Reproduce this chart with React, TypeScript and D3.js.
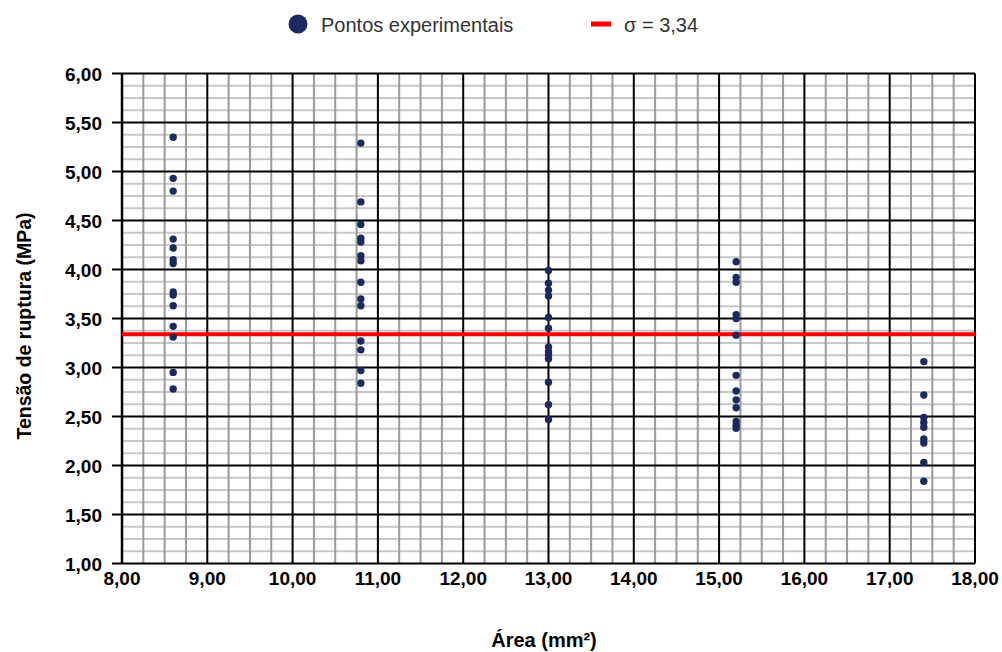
import React from "react";
import * as d3 from "d3";

// leitura dos pontos no gráfico (x = área, y = tensão)
const areas = [8.6, 10.8, 13.0, 15.2, 17.4];
const tensoes8_6 = [5.35, 4.93, 4.8, 4.31, 4.22, 4.1, 4.06, 3.77, 3.74, 3.63, 3.42, 3.31, 2.95, 2.78];
const tensoes10_8 = [5.29, 4.69, 4.46, 4.32, 4.28, 4.14, 4.09, 3.87, 3.7, 3.63, 3.27, 3.18, 2.97, 2.84];
const tensoes13_0 = [3.99, 3.86, 3.79, 3.73, 3.51, 3.4, 3.21, 3.16, 3.13, 3.09, 2.85, 2.62, 2.47];
const tensoes15_2 = [4.08, 3.92, 3.87, 3.54, 3.5, 3.33, 2.92, 2.76, 2.67, 2.59, 2.45, 2.41, 2.38];
const tensoes17_4 = [3.06, 2.72, 2.49, 2.44, 2.39, 2.27, 2.23, 2.03, 1.84];
const sigma = 3.34;

const xTicks = [8, 9, 10, 11, 12, 13, 14, 15, 16, 17, 18];
const yTicks = [1, 1.5, 2, 2.5, 3, 3.5, 4, 4.5, 5, 5.5, 6];

const fmt = (v: number) => v.toFixed(2).replace(".", ",");

export default function App() {
  const W = 1002, H = 652;
  const left = 122, right = 975, top = 73.5, bottom = 563.5;

  const x = d3.scaleLinear().domain([8, 18]).range([left, right]);
  const y = d3.scaleLinear().domain([1, 6]).range([bottom, top]);

  const cols = [tensoes8_6, tensoes10_8, tensoes13_0, tensoes15_2, tensoes17_4];
  const pts = cols.flatMap((vals, i) => vals.map((v) => ({ a: areas[i], t: v })));

  const xMinor = d3.range(8, 18.001, 0.25).filter((v) => Math.abs(v - Math.round(v)) > 0.01);
  const yMinor = d3.range(1, 6.001, 0.125).filter((v) => Math.abs(v * 2 - Math.round(v * 2)) > 0.01);

  const font = "'Liberation Sans', Arial, sans-serif";

  return (
    <svg width={W} height={H} style={{ position: "absolute", left: 0, top: 0 }} fontFamily={font}>
      <rect width={W} height={H} fill="#fff" />

      {/* grade menor */}
      {yMinor.map((v) => (
        <line key={"ym" + v} x1={left} x2={right} y1={y(v)} y2={y(v)} stroke="#c8c8c8" strokeWidth={2} />
      ))}
      {xMinor.map((v) => (
        <line key={"xm" + v} x1={x(v)} x2={x(v)} y1={top} y2={bottom} stroke="#9a9a9a" strokeWidth={2} />
      ))}
      {/* grade maior */}
      {yTicks.map((v) => (
        <line key={"yM" + v} x1={left - 10} x2={right} y1={y(v)} y2={y(v)} stroke="#000" strokeWidth={2} />
      ))}
      {xTicks.map((v) => (
        <line key={"xM" + v} x1={x(v)} x2={x(v)} y1={top} y2={bottom} stroke="#000" strokeWidth={2} />
      ))}
      <line x1={left} x2={left} y1={top} y2={bottom} stroke="#000" strokeWidth={2.5} />

      {/* rótulos */}
      {yTicks.map((v) => (
        <text key={"yt" + v} x={102} y={y(v)} dy="0.42em" textAnchor="end" fontSize={19} fontWeight="bold" fill="#000">
          {fmt(v)}
        </text>
      ))}
      {xTicks.map((v) => (
        <text key={"xt" + v} x={x(v)} y={585} textAnchor="middle" fontSize={19} fontWeight="bold" fill="#000">
          {fmt(v)}
        </text>
      ))}

      <text transform="translate(31,326) rotate(-90)" textAnchor="middle" fontSize={19.5} fontWeight="bold" fill="#000">
        Tensão de ruptura (MPa)
      </text>
      <text x={544} y={647} textAnchor="middle" fontSize={20} fontWeight="bold" fill="#000">
        Área (mm²)
      </text>

      {/* linha sigma */}
      <line x1={left} x2={right} y1={y(sigma)} y2={y(sigma)} stroke="#ff0000" strokeWidth={4} />

      {/* pontos */}
      {pts.map((p, i) => (
        <circle key={i} cx={x(p.a)} cy={y(p.t)} r={3.7} fill="#1b2a5e" />
      ))}

      {/* legenda */}
      <circle cx={298} cy={24} r={9.5} fill="#1b2a5e" />
      <text x={321} y={31.5} fontSize={20} fill="#333">Pontos experimentais</text>
      <line x1={591} x2={611} y1={24} y2={24} stroke="#ff0000" strokeWidth={5} />
      <text x={624} y={31.5} fontSize={20} fill="#333">σ = 3,34</text>
    </svg>
  );
}
